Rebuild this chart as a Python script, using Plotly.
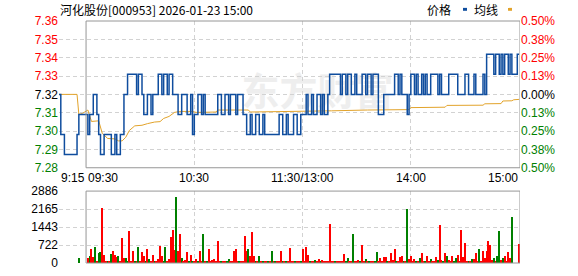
import plotly.graph_objects as go

# ---------------- data ----------------
title_text = "河化股份[000953] 2026-01-23 15:00"
prev_close = 7.32
pct_ticks = [-0.5, -0.375, -0.25, -0.125, 0.0, 0.125, 0.25, 0.375, 0.5]
pct_labels = ["0.50%", "0.38%", "0.25%", "0.13%", "0.00%", "0.13%", "0.25%", "0.38%", "0.50%"]
x_ticks = [0, 15, 75, 135, 195, 255.5]
x_labels = ["9:15", "09:30", "10:30", "11:30/13:00", "14:00", "15:00"]
vol_ticks = [0, 722, 1443, 2165, 2886]

# one value per minute, 9:15 .. 15:00 (lunch break removed)
price = [
    7.32, 7.30, 7.30, 7.29, 7.29, 7.29, 7.29, 7.29, 7.29, 7.29,
    7.30, 7.31, 7.31, 7.31, 7.31, 7.31, 7.30, 7.31, 7.31, 7.32,
    7.32, 7.31, 7.30, 7.29, 7.29, 7.30, 7.30, 7.30, 7.30, 7.29,
    7.29, 7.30, 7.29, 7.29, 7.30, 7.30, 7.32, 7.32, 7.33, 7.33,
    7.33, 7.33, 7.33, 7.32, 7.33, 7.33, 7.32, 7.31, 7.31, 7.32,
    7.32, 7.31, 7.32, 7.32, 7.32, 7.33, 7.33, 7.32, 7.33, 7.33,
    7.32, 7.33, 7.33, 7.32, 7.32, 7.32, 7.31, 7.31, 7.32, 7.32,
    7.32, 7.31, 7.31, 7.32, 7.30, 7.31, 7.31, 7.32, 7.32, 7.31,
    7.32, 7.31, 7.31, 7.31, 7.31, 7.31, 7.31, 7.31, 7.32, 7.32,
    7.31, 7.31, 7.32, 7.32, 7.31, 7.32, 7.32, 7.32, 7.31, 7.32,
    7.32, 7.32, 7.31, 7.31, 7.30, 7.30, 7.31, 7.30, 7.30, 7.31,
    7.31, 7.30, 7.30, 7.31, 7.30, 7.30, 7.30, 7.30, 7.30, 7.30,
    7.30, 7.30, 7.31, 7.31, 7.30, 7.30, 7.31, 7.30, 7.30, 7.30,
    7.31, 7.31, 7.30, 7.30, 7.31, 7.31, 7.31, 7.32, 7.31, 7.31,
    7.32, 7.31, 7.31, 7.32, 7.32, 7.31, 7.32, 7.31, 7.31, 7.32,
    7.33, 7.33, 7.33, 7.33, 7.33, 7.33, 7.32, 7.33, 7.33, 7.32,
    7.33, 7.33, 7.32, 7.32, 7.33, 7.32, 7.32, 7.32, 7.33, 7.33,
    7.32, 7.33, 7.33, 7.32, 7.33, 7.33, 7.33, 7.31, 7.31, 7.31,
    7.32, 7.32, 7.32, 7.32, 7.32, 7.32, 7.33, 7.33, 7.32, 7.33,
    7.32, 7.32, 7.32, 7.31, 7.32, 7.33, 7.33, 7.32, 7.33, 7.32,
    7.32, 7.33, 7.32, 7.33, 7.32, 7.32, 7.33, 7.33, 7.33, 7.33,
    7.32, 7.33, 7.32, 7.32, 7.32, 7.32, 7.33, 7.33, 7.33, 7.33,
    7.33, 7.32, 7.32, 7.32, 7.32, 7.33, 7.33, 7.32, 7.32, 7.32,
    7.33, 7.32, 7.32, 7.32, 7.32, 7.33, 7.32, 7.34, 7.34, 7.34,
    7.34, 7.33, 7.34, 7.34, 7.33, 7.34, 7.33, 7.34, 7.34, 7.33,
    7.34, 7.33, 7.33, 7.33, 7.34, 7.34,
]

# average price line (minute, value) where it changes
avg_minute = [0, 10, 11, 13, 16, 18, 22, 24, 27, 31, 33, 35, 37, 39, 42, 46, 49, 53, 56,
              58, 61, 64, 67, 74, 76, 87, 88, 105, 106, 150, 151, 171, 194, 195, 214,
              215, 235, 236, 245, 246, 251, 252, 255]
avg_price = [7.3200, 7.3200, 7.3100, 7.3105, 7.3122, 7.3065, 7.3068, 7.3005, 7.2980,
             7.2978, 7.2968, 7.2968, 7.2986, 7.3020, 7.3043, 7.3046, 7.3054, 7.3062,
             7.3064, 7.3080, 7.3090, 7.3110, 7.3115, 7.3115, 7.3110, 7.3112, 7.3122,
             7.3122, 7.3112, 7.3115, 7.3118, 7.3122, 7.3124, 7.3134, 7.3136, 7.3145,
             7.3146, 7.3153, 7.3154, 7.3167, 7.3168, 7.3173, 7.3175]

volume = [
    0, 0, 0, 0, 0, 0, 0, 0, 0, 0,
    0, 208, 0, 0, 0, 0, 208, 273, 559, 234,
    624, 52, 403, 455, 2223, 325, 45, 65, 52, 364,
    494, 325, 234, 273, 65, 988, 208, 195, 52, 1274,
    78, 494, 45, 52, 637, 65, 455, 273, 39, 559,
    169, 52, 325, 45, 65, 169, 676, 260, 52, 637,
    45, 169, 1027, 1339, 533, 2665, 494, 1157, 208, 52,
    104, 455, 39, 325, 52, 65, 169, 45, 494, 52,
    1144, 39, 65, 559, 52, 130, 143, 78, 871, 52,
    45, 65, 52, 39, 169, 52, 45, 494, 559, 52,
    39, 65, 45, 1066, 494, 559, 260, 1248, 286, 52,
    65, 286, 45, 52, 39, 65, 45, 52, 494, 65,
    39, 52, 45, 494, 52, 65, 39, 52, 598, 52,
    45, 39, 65, 52, 45, 546, 65, 624, 312, 52,
    45, 39, 117, 52, 156, 45, 117, 52, 39, 65,
    1560, 52, 45, 52, 65, 45, 52, 39, 351, 52,
    182, 45, 52, 1170, 45, 52, 117, 39, 702, 52,
    156, 45, 52, 39, 65, 52, 429, 45, 195, 52,
    234, 234, 45, 52, 390, 130, 546, 52, 45, 234,
    273, 52, 45, 2145, 156, 273, 52, 156, 45, 52,
    195, 390, 45, 52, 273, 45, 156, 52, 45, 234,
    117, 1521, 117, 52, 390, 273, 117, 52, 273, 45,
    195, 312, 52, 1326, 234, 780, 52, 91, 45, 156,
    156, 390, 52, 546, 45, 468, 195, 468, 897, 702,
    117, 195, 52, 273, 1287, 117, 195, 273, 52, 429,
    195, 1833, 0, 0, 0, 741,
]
# u = up minute (red bar), d = down minute (green bar)
vol_dir = "".join([
    "uuuuuuuuuu", "uduuuuuduu", "dudduuudud", "uuuduuuddu", "uududuuudu",
    "duuduuuudd", "uuuuuduudu", "uududuuduu", "duduuuuuuu", "duudduuuuu",
    "duuuuduuud", "ududuududu", "duuududuuu", "uduuduuuud", "uuduuduuuu",
    "uuuduuuuud", "duuduuuduu", "duduudduuu", "uuduuuuduu", "ududuuuudu",
    "duuduuduuu", "duududuuud", "duuuuuudud", "uuuduuuuuu", "ududduduuu",
    "uduuuu",
])

# ---------------- layout helpers ----------------
W, H = 578, 276
ML, MR, MT, MB = 59, 58, 21, 6
PW, PH = W - ML - MR, H - MT - MB


def px(x):
    return (x - ML) / PW


def py(y):
    return (H - MB - y) / PH


RED = "#ff0000"
GREEN = "#008000"
BLUE = "#0f4d9e"
ORANGE = "#e2a32b"
GRID = "#d2d2d2"
FRAME = "#969696"
FONT = "Liberation Sans, Arial, sans-serif"
CJK = "Noto Sans CJK SC, sans-serif"

minutes = list(range(len(price)))
pct = [(p / prev_close - 1) * 100 for p in price]
price_ticks = [prev_close * (1 + p / 100) for p in pct_ticks]


def colored(text, p):
    c = RED if p > 0 else (GREEN if p < 0 else "#000000")
    return f'<span style="color:{c}">{text}</span>'


price_text = [colored(f"{v:.2f}", p) for v, p in zip(price_ticks, pct_ticks)]
pct_text = [colored(t, p) for t, p in zip(pct_labels, pct_ticks)]
bar_colors = [RED if d == "u" else GREEN for d in vol_dir]

fig = go.Figure()
fig.add_trace(go.Scatter(x=minutes, y=pct, yaxis="y2", mode="lines",
                         line=dict(width=0, color="rgba(0,0,0,0)"), hoverinfo="skip",
                         showlegend=False))
fig.add_trace(go.Scatter(x=avg_minute, y=avg_price, mode="lines",
                         line=dict(color=ORANGE, width=1), showlegend=False))
fig.add_trace(go.Scatter(x=minutes, y=price, mode="lines",
                         line=dict(color=BLUE, width=1.5, shape="hv"), showlegend=False))
fig.add_trace(go.Bar(x=minutes, y=volume, xaxis="x2", yaxis="y3", width=0.62,
                     marker=dict(color=bar_colors, line=dict(width=0)), showlegend=False))

price_dom = [py(172), 1.0]
vol_dom = [0.0, py(196)]
xr = [0, 255.5]
grid_kw = dict(showgrid=True, gridcolor=GRID, griddash="4px,3px", gridwidth=1,
               zeroline=False, showline=False, ticks="")

fig.update_layout(
    width=W, height=H,
    margin=dict(l=ML, r=MR, t=MT, b=MB, pad=0),
    paper_bgcolor="white", plot_bgcolor="white",
    bargap=0,
    font=dict(family=FONT, size=12, color="#000000"),
    xaxis=dict(domain=[0, 1], range=xr, anchor="y", tickvals=[0, 75, 135, 195],
               showticklabels=False, **grid_kw),
    xaxis2=dict(domain=[0, 1], range=xr, anchor="y3", tickvals=[75, 135, 195],
                showticklabels=False, **grid_kw),
    yaxis=dict(domain=price_dom, range=[price_ticks[0], price_ticks[-1]],
               tickvals=price_ticks, ticktext=price_text, tickfont=dict(size=12),
               anchor="x", **grid_kw),
    yaxis2=dict(overlaying="y", side="right", range=[pct_ticks[0], pct_ticks[-1]],
                tickvals=pct_ticks, ticktext=pct_text, tickfont=dict(size=12),
                anchor="x", showgrid=False, zeroline=False, showline=False, ticks=""),
    yaxis3=dict(domain=vol_dom, range=[vol_ticks[0], vol_ticks[-1]], tickvals=vol_ticks,
                ticktext=[str(v) for v in vol_ticks], tickfont=dict(size=12),
                anchor="x2", **grid_kw),
)

shapes = [
    # watermark (below the data)
    dict(type="rect", xref="paper", yref="paper", x0=px(225), x1=px(410), y0=py(118), y1=py(76),
         line=dict(width=0), fillcolor="rgba(0,0,0,0)", layer="below",
         label=dict(text="<b>东方财富</b>", font=dict(family=CJK, size=38, color="#eeeeee"),
                    textposition="middle center")),
    # panel frames (09:30 .. 15:00)
    dict(type="rect", xref="x", yref="y domain", x0=15, x1=xr[1], y0=0, y1=1,
         line=dict(color=FRAME, width=1), fillcolor="rgba(0,0,0,0)", layer="above"),
    dict(type="rect", xref="x2", yref="y3 domain", x0=15, x1=xr[1], y0=0, y1=1,
         line=dict(color=FRAME, width=1), fillcolor="rgba(0,0,0,0)", layer="above"),
    # legend swatches
    dict(type="rect", xref="paper", yref="paper", x0=px(463), x1=px(467), y0=py(10.5), y1=py(7.5),
         line=dict(width=0), fillcolor=BLUE),
    dict(type="rect", xref="paper", yref="paper", x0=px(508), x1=px(512), y0=py(10.5), y1=py(7.5),
         line=dict(width=0), fillcolor=ORANGE),
]

annotations = [
    dict(text=title_text, xref="paper", yref="paper", x=px(58), y=py(9), xanchor="left",
         yanchor="middle", showarrow=False, font=dict(family=CJK, size=12, color="#000")),
    dict(text="价格", xref="paper", yref="paper", x=px(453), y=py(9), xanchor="right",
         yanchor="middle", showarrow=False, font=dict(family=CJK, size=12, color="#000")),
    dict(text="均线", xref="paper", yref="paper", x=px(500), y=py(9), xanchor="right",
         yanchor="middle", showarrow=False, font=dict(family=CJK, size=12, color="#000")),
]
anchors = ["left", "left", "center", "center", "center", "right"]
for xv, lab, anc in zip(x_ticks, x_labels, anchors):
    annotations.append(dict(text=lab, xref="x", yref="paper", x=xv, y=py(183),
                            xanchor=anc, yanchor="middle", showarrow=False,
                            font=dict(family=FONT, size=12, color="#000")))

fig.update_layout(shapes=shapes, annotations=annotations)
fig.write_html("out.html")
